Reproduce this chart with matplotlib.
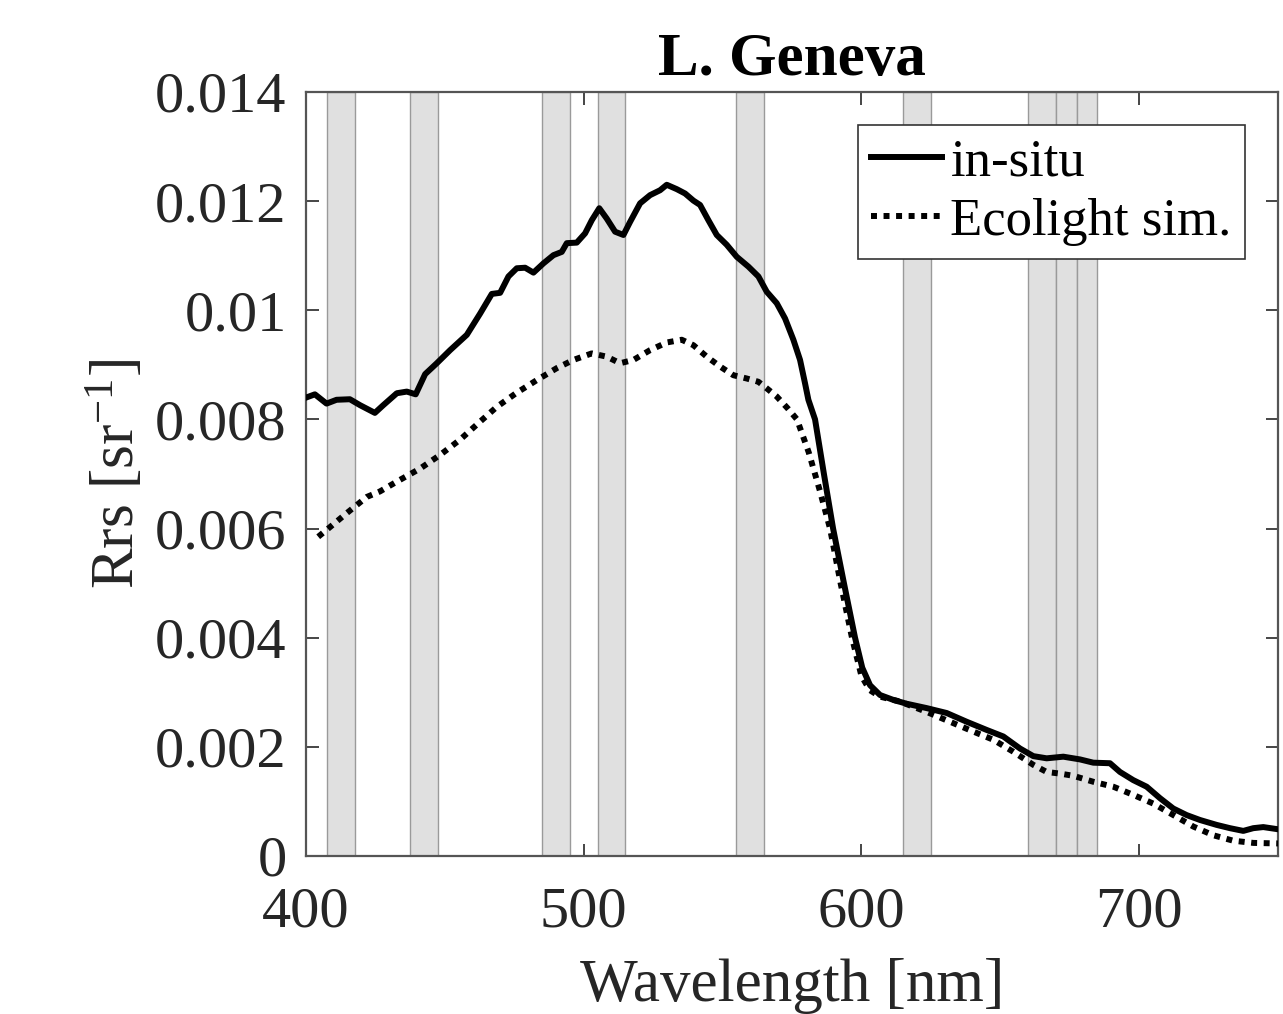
import matplotlib
matplotlib.use("Agg")
import matplotlib.pyplot as plt
import numpy as np

# ---- data ----
wl_insitu = [400, 403.2, 407.4, 411, 415.8, 419.5, 424.8, 427.8, 432.7, 436.3, 439.5, 442.9,
             447.1, 451.9, 457.9, 462.7, 466.9, 469.9, 472.9, 475.9, 478.9, 481.9, 485.5,
             489.1, 492.1, 493.9, 497.5, 500.5, 502.9, 505.6, 508.3, 511.3, 514.3, 516.7,
             520.3, 523.9, 527.5, 529.9, 533.5, 536.5, 539.5, 541.9, 544.9, 547.9, 551.5,
             555.1, 559.3, 562.9, 565.9, 569.5, 572.5, 575.5, 577.9, 579.7, 580.9, 583.3,
             586.5, 589.8, 593.7, 597.7, 600.3, 603.1, 606.7, 611.5, 616.3, 623.5,
             630.7, 637.9, 645.1, 651.1, 657.1, 661.9, 666.7, 672.7, 678.7, 683.5, 689.5,
             693.1, 697.9, 702.7, 707.5, 712.3, 717.1, 721.9, 727.9, 732.7, 737.5, 741.1,
             744.7, 750]
rrs_insitu = [.00840, .00846, .00829, .00836, .00837, .00826, .00812, .00826, .00848, .00851,
              .00846, .00883, .00903, .00927, .00955, .00994, .01030, .01032, .01062, .01077,
              .01078, .01069, .01086, .01101, .01107, .01123, .01124, .01141, .01165, .01187,
              .01168, .01144, .01138, .01162, .01196, .01211, .01220, .01230, .01222, .01214,
              .01201, .01193, .01165, .01138, .01120, .01098, .01080, .01062, .01034, .01013,
              .00985, .00946, .00909, .00866, .00836, .0080,
              .0070, .0060, .0050, .0040, .00345, .00313, .00295, .00286, .00279, .00271,
              .00262, .00246, .00231, .00219, .00197, .00183, .00179, .00182, .00177, .00171,
              .00170, .00154, .00139, .00127, .00106, .00087, .00075, .00066, .00057, .00051,
              .00046, .00051, .00053, .00049]

wl_eco = [404.4, 408, 414.6, 421.9, 426.6, 432.7, 441.1, 448.3, 455.5, 462.7, 468.7, 475.9,
          483.1, 490.3, 496.3, 502.9, 508.3, 513.1, 517.9, 523.9, 529.9, 535.3, 539.5, 544.3,
          549.1, 553.9, 558.7, 562.9, 565.9, 569.5, 573.5, 576.8, 581, 585, 588.7, 592.5,
          596.6, 600, 603, 606.7, 613.9, 623.5, 631.9, 640.3, 647.5, 654.7, 661.9, 666.7,
          671.5, 676.3, 683.5, 690.7, 697.9, 705.1, 712.3, 719.5, 726.7, 733.9, 741.1, 750]
rrs_eco = [.00585, .00600, .00628, .00658, .00668, .00686, .00710, .00735, .00763, .00796,
           .00823, .00849, .00872, .00894, .00909, .00921, .00915, .00903, .00909, .00927,
           .00941, .00946, .00936, .00915, .00897, .00881, .00875, .00869, .00857, .00842,
           .00820, .00800, .00740, .00670, .00600, .00500, .00400, .00330, .00304, .00292,
           .00283, .00264, .00246, .00228, .00213, .00191, .00167, .00154, .00151, .00147,
           .00136, .00127, .00112, .00096, .00075, .00054, .00038, .00028, .00024, .00023]

band_centers = [412.5, 442.5, 490, 510, 560, 620, 665, 673.75, 681.25]
band_widths = [10, 10, 10, 10, 10, 10, 10, 7.5, 7.5]

xticks = [400, 500, 600, 700]
yticks = [0, 0.002, 0.004, 0.006, 0.008, 0.01, 0.012, 0.014]
ytick_labels = ["0", "0.002", "0.004", "0.006", "0.008", "0.01", "0.012", "0.014"]

# ---- style ----
plt.rcParams['font.family'] = ['Liberation Serif', 'DejaVu Serif']
plt.rcParams['mathtext.fontset'] = 'custom'
plt.rcParams['mathtext.rm'] = 'Liberation Serif'
plt.rcParams['mathtext.it'] = 'Liberation Serif:italic'

fig = plt.figure(figsize=(12.83, 10.14), dpi=100)
ax = fig.add_axes([306/1283, 1-856/1014, (1278-306)/1283, (856-92)/1014])

txtcol = '#262626'
for c, w in zip(band_centers, band_widths):
    ax.axvspan(c - w/2, c + w/2, facecolor='#e0e0e0', edgecolor='#9a9a9a',
               linewidth=1.0, zorder=1)

ax.plot(wl_insitu, rrs_insitu, color='black', linewidth=4.3, linestyle='-',
        label='in-situ', zorder=3)
ax.plot(wl_eco, rrs_eco, color='black', linewidth=4.3, linestyle=(0, (1, 1.1)),
        label='Ecolight sim.', zorder=3)

ax.set_xlim(400, 750)
ax.set_ylim(0, 0.014)
ax.set_xticks(xticks)
ax.set_yticks(yticks)
ax.set_yticklabels(ytick_labels)
ax.tick_params(axis='both', which='both', direction='in', length=9, width=1.2,
               top=True, right=True, labelsize=42, colors=txtcol,
               labelcolor=txtcol)
ax.tick_params(axis='x', pad=22)
ax.tick_params(axis='y', pad=14)
for s in ax.spines.values():
    s.set_color('#555555')
    s.set_linewidth(1.6)

ax.set_xlabel('Wavelength [nm]', fontsize=44, labelpad=14, color=txtcol)
ax.set_ylabel('Rrs [sr$^{-1}$]', fontsize=44, labelpad=6, color=txtcol)
ax.set_title('L. Geneva', fontsize=44, fontweight='bold', pad=12)

leg = ax.legend(loc='upper right', bbox_to_anchor=(0.966, 0.957), fontsize=38,
                frameon=True, fancybox=False, edgecolor='#333333', framealpha=1,
                handlelength=1.35, handletextpad=0.15, borderpad=0.25,
                labelspacing=0.22, borderaxespad=0)
leg.get_frame().set_linewidth(1.2)

fig.savefig('out.png', dpi=100)
